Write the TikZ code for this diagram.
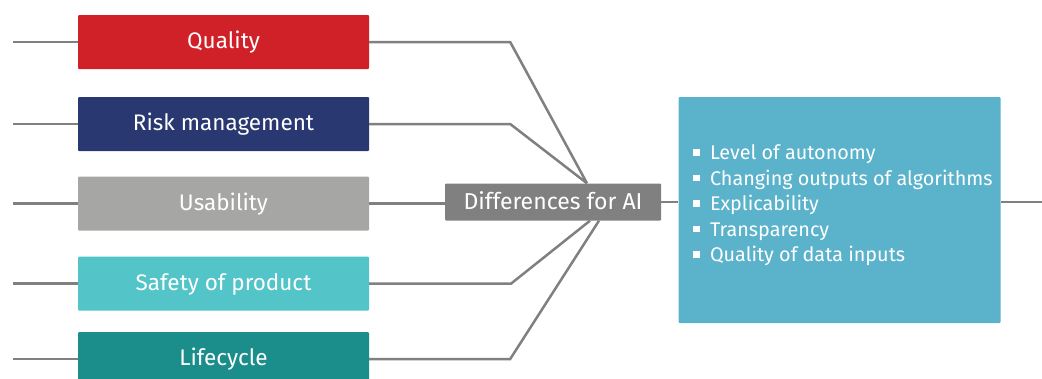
\documentclass[tikz,border=0pt]{standalone}
\usepackage{fontspec}
\setmainfont{Fira Sans}
\usepackage{tikz}
\definecolor{qualred}{RGB}{208,33,40}
\definecolor{riskblue}{RGB}{41,56,112}
\definecolor{usegray}{RGB}{166,166,164}
\definecolor{safecyan}{RGB}{83,196,199}
\definecolor{lifeteal}{RGB}{27,142,139}
\definecolor{diffgray}{RGB}{128,128,128}
\definecolor{infoblue}{RGB}{91,178,203}
\definecolor{linegray}{RGB}{128,128,128}
\newcommand{\sqbullet}{\makebox[17pt][l]{\raisebox{4pt}{\rule{6.5pt}{6.5pt}}}}

\begin{document}
\begin{tikzpicture}[x=1pt,y=-1pt]
\tikzset{catbox/.style={rectangle, rounded corners=1pt, minimum width=291pt, minimum height=54pt, text=white, text height=18pt, text depth=5pt, font=\fontsize{22.5}{27}\selectfont}}
\tikzset{link/.style={draw=linegray, line width=2.5pt}}
\useasboundingbox (0,0) rectangle (1042,378);

\node[catbox, fill=qualred] (qual) at (223.5,42) {Quality};
\node[catbox, fill=riskblue] (risk) at (223.5,124) {Risk management};
\node[catbox, fill=usegray] (usab) at (223.5,203.5) {Usability};
\node[catbox, fill=safecyan] (safe) at (223.5,283.5) {Safety of product};
\node[catbox, fill=lifeteal] (life) at (223.5,359) {Lifecycle};

\foreach \n in {qual,risk,usab,safe,life}
  \draw[link] (\n.west) -- ++(-65,0);

\node[rectangle, rounded corners=1pt, fill=diffgray, text=white, minimum width=216pt, minimum height=37pt, text height=19pt, text depth=5pt, inner ysep=0pt, font=\fontsize{23}{27}\selectfont] (diff) at (553,202) {Differences for AI};

\coordinate (jtop) at ([xshift=34pt] diff.north);
\coordinate (jbot1) at ([xshift=37pt] diff.south);
\coordinate (jbot2) at ([xshift=46pt] diff.south);

\draw[link] (qual.east) -- ++(141,0) -- (jtop);
\draw[link] (risk.east) -- ++(141,0) -- (jtop);
\draw[link] (usab.east) -- (usab.east -| diff.west);
\draw[link] (safe.east) -- ++(142,0) -- (jbot1);
\draw[link] (life.east) -- ++(141,0) -- (jbot2);

\node[rectangle, rounded corners=1pt, fill=infoblue, minimum width=322pt, minimum height=226pt] (info) at (839.5,210) {};
\draw[link] (diff.east) -- (diff.east -| info.west);
\draw[link] (info.east |- diff.east) -- ++(42,0);

\node[anchor=north west, text=white, align=left, inner sep=0pt, font=\fontsize{19.8}{25.5}\selectfont] (infolist) at ([xshift=14.5pt, yshift=-48pt] info.north west) {%
\sqbullet Level of autonomy\\
\sqbullet Changing outputs of algorithms\\
\sqbullet Explicability\\
\sqbullet Transparency\\
\sqbullet Quality of data inputs};
\end{tikzpicture}
\end{document}
